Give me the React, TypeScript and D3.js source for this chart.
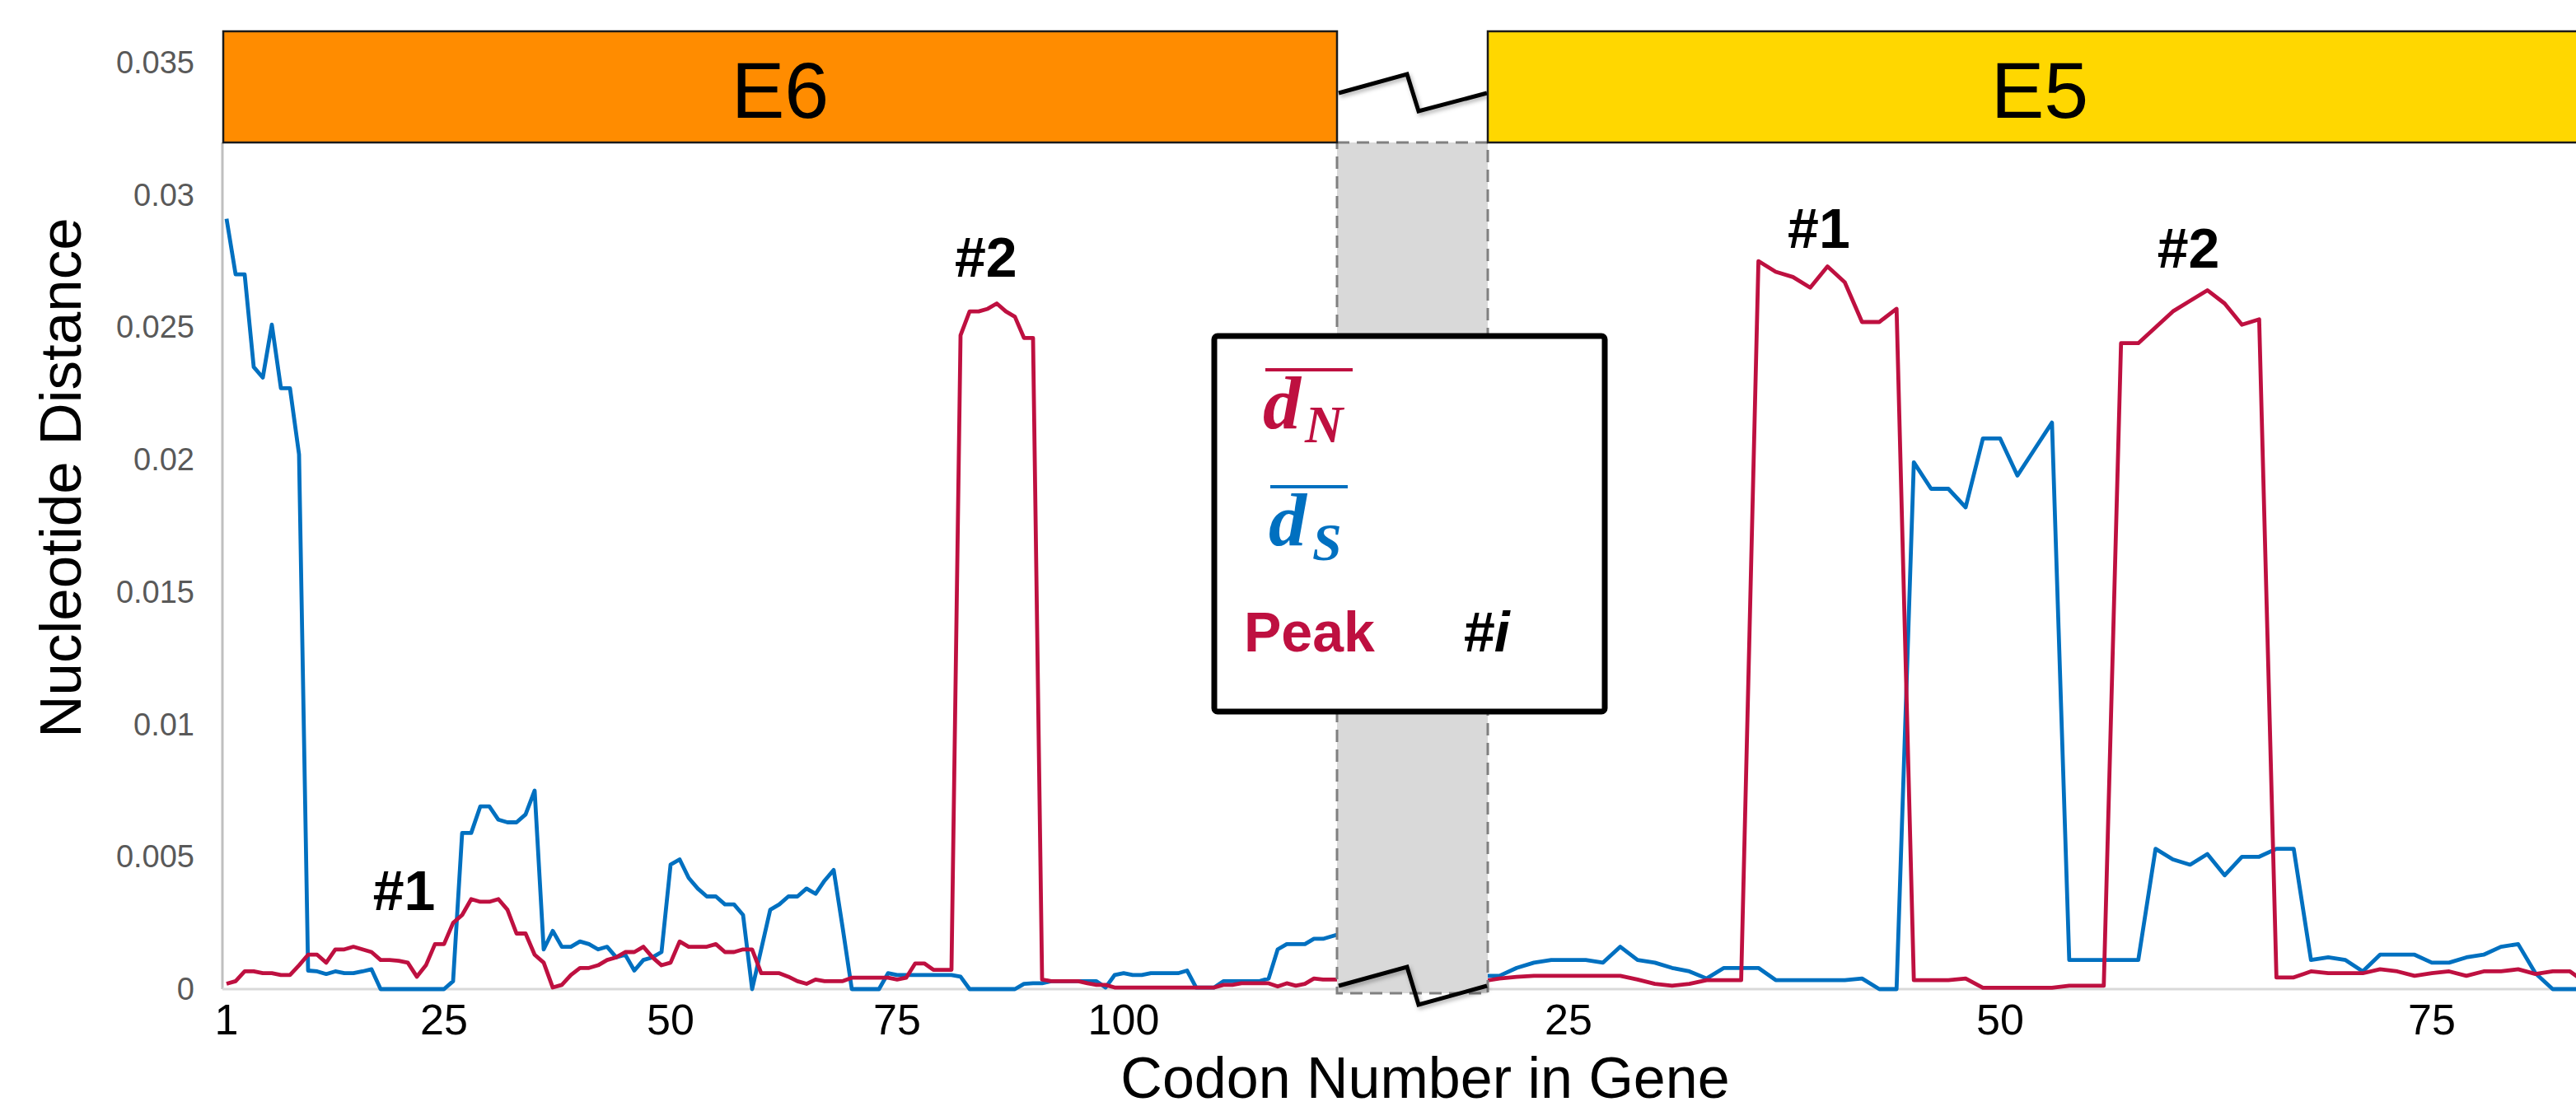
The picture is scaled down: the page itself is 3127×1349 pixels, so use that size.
import * as d3 from "d3";

// E6: codons 1..124 (the gray break box hides the rest)
const E6_FIRST_CODON = 1;
const E6_DN = [
  0.0002, 0.0003, 0.00067, 0.00067, 0.0006, 0.0006, 0.00053, 0.00053, 0.0009, 0.0013,
  0.0013, 0.001, 0.0015, 0.0015, 0.0016, 0.0015, 0.0014, 0.0011, 0.0011, 0.00107,
  0.001, 0.00047, 0.0009, 0.0017, 0.0017, 0.0025, 0.0028, 0.0034, 0.0033, 0.0033,
  0.0034, 0.003, 0.0021, 0.0021, 0.0013, 0.001, 0.00006, 0.00016, 0.00053, 0.0008,
  0.0008, 0.0009, 0.0011, 0.0012, 0.0014, 0.0014, 0.0016, 0.0012, 0.0009, 0.001,
  0.0018, 0.0016, 0.0016, 0.0016, 0.0017, 0.0014, 0.0014, 0.0015, 0.0015, 0.0006,
  0.0006, 0.0006, 0.00047, 0.0003, 0.0002, 0.00036, 0.0003, 0.0003, 0.0003, 0.00043,
  0.00043, 0.00043, 0.00043, 0.00043, 0.00036, 0.00043, 0.00097, 0.00097, 0.00073, 0.00073,
  0.00073, 0.0247, 0.0256, 0.0256, 0.0257, 0.0259, 0.0256, 0.0254, 0.0246, 0.0246,
  0.00036, 0.0003, 0.0003, 0.0003, 0.0003, 0.00022, 0.00016, 0.00016, 0.00006, 0.00006,
  0.00006, 0.00006, 0.00006, 0.00006, 0.00006, 0.00006, 0.00006, 0.00006, 0.00006, 0.00006,
  0.00016, 0.00016, 0.00022, 0.00022, 0.00022, 0.00022, 0.0001, 0.00022, 0.00013, 0.0002,
  0.0004, 0.00036, 0.00036, 0.00036,
];
const E6_DS = [
  0.0291, 0.027, 0.027, 0.0235, 0.0231, 0.0251, 0.0227, 0.0227, 0.0202, 0.0007,
  0.00067, 0.00057, 0.00067, 0.0006, 0.0006, 0.00067, 0.00075, 0, 0, 0,
  0, 0, 0, 0, 0, 0.0003, 0.0059, 0.0059, 0.0069, 0.0069,
  0.0064, 0.0063, 0.0063, 0.0066, 0.0075, 0.0015, 0.0022, 0.0016, 0.0016, 0.0018,
  0.0017, 0.0015, 0.0016, 0.0012, 0.0013, 0.0007, 0.0011, 0.0012, 0.0014, 0.0047,
  0.0049, 0.0042, 0.0038, 0.0035, 0.0035, 0.0032, 0.0032, 0.0028, 0, 0.0015,
  0.003, 0.0032, 0.0035, 0.0035, 0.0038, 0.0036, 0.0041, 0.0045, 0.0023, 0,
  0, 0, 0, 0.0006, 0.00053, 0.00053, 0.00053, 0.00053, 0.00053, 0.00053,
  0.00053, 0.00047, 0, 0, 0, 0, 0, 0, 0.0002, 0.00022,
  0.00022, 0.0003, 0.0003, 0.0003, 0.0003, 0.0003, 0.0003, 0.00006, 0.00053, 0.0006,
  0.00053, 0.00053, 0.0006, 0.0006, 0.0006, 0.0006, 0.0007, 0.00006, 0.00006, 0.00006,
  0.0003, 0.0003, 0.0003, 0.0003, 0.0003, 0.0004, 0.0015, 0.0017, 0.0017, 0.0017,
  0.0019, 0.0019, 0.002, 0.0021,
];

// E5: codons 20..84 visible to the right of the break
const E5_FIRST_CODON = 20;
const E5_DN = [
  0.0003, 0.0004, 0.00046, 0.0005, 0.0005, 0.0005, 0.0005, 0.0005, 0.0005, 0.00036,
  0.0002, 0.00013, 0.0002, 0.00034, 0.00034, 0.00034, 0.0275, 0.0271, 0.0269, 0.0265,
  0.0273, 0.0267, 0.0252, 0.0252, 0.0257, 0.00034, 0.00034, 0.00034, 0.0004, 0.00005,
  0.00005, 0.00005, 0.00005, 0.00005, 0.00013, 0.00013, 0.00013, 0.0244, 0.0244, 0.025,
  0.0256, 0.026, 0.0264, 0.0259, 0.0251, 0.0253, 0.00044, 0.00044, 0.00067, 0.0006,
  0.0006, 0.0006, 0.00075, 0.00067, 0.0005, 0.0006, 0.00067, 0.0005, 0.00067, 0.00067,
  0.00075, 0.00057, 0.00067, 0.00067, 0.0002,
];
const E5_DS = [
  0.0005, 0.0005, 0.0008, 0.001, 0.0011, 0.0011, 0.0011, 0.001, 0.0016, 0.0011,
  0.001, 0.0008, 0.00067, 0.0004, 0.0008, 0.0008, 0.0008, 0.00034, 0.00034, 0.00034,
  0.00034, 0.00034, 0.0004, 0, 0, 0.0199, 0.0189, 0.0189, 0.0182, 0.0208,
  0.0208, 0.0194, 0.0204, 0.0214, 0.0011, 0.0011, 0.0011, 0.0011, 0.0011, 0.0053,
  0.0049, 0.0047, 0.0051, 0.0043, 0.005, 0.005, 0.0053, 0.0053, 0.0011, 0.0012,
  0.0011, 0.00067, 0.0013, 0.0013, 0.0013, 0.001, 0.001, 0.0012, 0.0013, 0.0016,
  0.0017, 0.0006, 0, 0, 0,
];

const Y_TICKS = [0, 0.005, 0.01, 0.015, 0.02, 0.025, 0.03, 0.035];
const Y_TICK_LABELS = ["0", "0.005", "0.01", "0.015", "0.02", "0.025", "0.03", "0.035"];
const E6_TICKS = [1, 25, 50, 75, 100];
const E5_TICKS = [25, 50, 75];

// peak labels: gene, codon centre, value at text baseline
const PEAK_GENE = ["E6", "E6", "E5", "E5"];
const PEAK_CODON = [20.6, 84.8, 39.5, 60.9];
const PEAK_VALUE = [0.003, 0.0269, 0.028, 0.02725];
const PEAK_LABEL = ["#1", "#2", "#1", "#2"];

const W = 3127;
const H = 1349;
const RED = "#BE1040";
const BLUE = "#0070C0";
const SANS = "Liberation Sans, Arial, sans-serif";
const SERIF = "Liberation Serif, serif";

const BREAK_L = 1623;
const BREAK_R = 1806;
const BOX_TOP = 38;
const BOX_BOTTOM = 173;

const y = d3.scaleLinear().domain([0, 0.035]).range([1201, 76]);
const xE6 = d3.scaleLinear().domain([1, 100]).range([275, 1364]);
const xE5 = d3.scaleLinear().domain([25, 75]).range([1904, 2952]);

const lineE6 = d3
  .line<number>()
  .x((_, i) => xE6(i + E6_FIRST_CODON))
  .y((d) => y(d));
const lineE5 = d3
  .line<number>()
  .x((_, i) => xE5(i + E5_FIRST_CODON))
  .y((d) => y(d));

const App = () => {
  const y0 = y(0);
  return (
    <svg
      width={W}
      height={H}
      viewBox={`0 0 ${W} ${H}`}
      style={{ position: "absolute", left: 0, top: 0, display: "block", background: "#fff" }}
    >
      <defs>
        <clipPath id="clipE6">
          <rect x={270} y={0} width={BREAK_L - 270} height={H} />
        </clipPath>
        <clipPath id="clipE5">
          <rect x={BREAK_R} y={0} width={W - BREAK_R} height={H} />
        </clipPath>
        <filter id="shadow" x="-20%" y="-50%" width="140%" height="200%">
          <feDropShadow dx={2} dy={3} stdDeviation={2.5} floodColor="#000" floodOpacity={0.3} />
        </filter>
      </defs>

      {/* axes */}
      <line x1={270} x2={270} y1={BOX_BOTTOM} y2={y0} stroke="#BFBFBF" strokeWidth={3} />
      <line x1={270} x2={W} y1={y0} y2={y0} stroke="#D9D9D9" strokeWidth={3} />

      {Y_TICKS.map((t, i) => (
        <text
          key={t}
          x={236}
          y={y(t) + 13}
          textAnchor="end"
          fontFamily={SANS}
          fontSize={38}
          fill="#595959"
        >
          {Y_TICK_LABELS[i]}
        </text>
      ))}
      {E6_TICKS.map((t) => (
        <text key={"e6" + t} x={xE6(t)} y={1256} textAnchor="middle" fontFamily={SANS} fontSize={52} fill="#000">
          {t}
        </text>
      ))}
      {E5_TICKS.map((t) => (
        <text key={"e5" + t} x={xE5(t)} y={1256} textAnchor="middle" fontFamily={SANS} fontSize={52} fill="#000">
          {t}
        </text>
      ))}

      <text
        transform="translate(98, 580) rotate(-90)"
        textAnchor="middle"
        fontFamily={SANS}
        fontSize={71}
        fill="#000"
      >
        Nucleotide Distance
      </text>
      <text x={1730} y={1333} textAnchor="middle" fontFamily={SANS} fontSize={70} fill="#000">
        Codon Number in Gene
      </text>

      {/* series */}
      <g clipPath="url(#clipE6)" fill="none" strokeWidth={4.8} strokeLinejoin="round">
        <path d={lineE6(E6_DS) ?? ""} stroke={BLUE} />
        <path d={lineE6(E6_DN) ?? ""} stroke={RED} />
      </g>
      <g clipPath="url(#clipE5)" fill="none" strokeWidth={4.8} strokeLinejoin="round">
        <path d={lineE5(E5_DS) ?? ""} stroke={BLUE} />
        <path d={lineE5(E5_DN) ?? ""} stroke={RED} />
      </g>

      {/* axis break */}
      <rect
        x={BREAK_L}
        y={BOX_BOTTOM}
        width={BREAK_R - BREAK_L}
        height={1206 - BOX_BOTTOM}
        fill="#D9D9D9"
        stroke="#808080"
        strokeWidth={3}
        strokeDasharray="15 9"
      />
      <polyline
        points={`${BREAK_L + 2},113 1708,90 1722,135 ${BREAK_R - 1},113`}
        fill="none"
        stroke="#000"
        strokeWidth={5}
        filter="url(#shadow)"
      />
      <polyline
        points={`${BREAK_L + 2},1197 1708,1174 1722,1220 ${BREAK_R - 1},1197`}
        fill="none"
        stroke="#000"
        strokeWidth={5}
        filter="url(#shadow)"
      />

      {/* gene boxes */}
      <rect x={271} y={BOX_TOP} width={BREAK_L - 271} height={BOX_BOTTOM - BOX_TOP} fill="#FF8C00" stroke="#1a1a1a" strokeWidth={2.5} />
      <text x={(271 + BREAK_L) / 2} y={143} textAnchor="middle" fontFamily={SANS} fontSize={97} fill="#000">
        E6
      </text>
      <rect x={BREAK_R} y={BOX_TOP} width={3146 - BREAK_R} height={BOX_BOTTOM - BOX_TOP} fill="#FFD700" stroke="#1a1a1a" strokeWidth={2.5} />
      <text x={(BREAK_R + 3146) / 2} y={143} textAnchor="middle" fontFamily={SANS} fontSize={97} fill="#000">
        E5
      </text>

      {/* peak labels */}
      {PEAK_LABEL.map((lab, i) => (
        <text
          key={i}
          x={PEAK_GENE[i] === "E6" ? xE6(PEAK_CODON[i]) : xE5(PEAK_CODON[i])}
          y={y(PEAK_VALUE[i])}
          textAnchor="middle"
          fontFamily={SANS}
          fontWeight="bold"
          fontSize={68}
          fill="#000"
        >
          {lab}
        </text>
      ))}

      {/* legend */}
      <rect x={1474} y={408} width={474} height={456} rx={4} fill="#fff" stroke="#000" strokeWidth={7} />
      <line x1={1536} x2={1642} y1={449} y2={449} stroke={RED} strokeWidth={4} />
      <text x={1533} y={520} fontFamily={SERIF} fontStyle="italic" fontWeight="bold" fontSize={92} fill={RED}>
        d
        <tspan dx={5} dy={17} fontSize={64}>
          N
        </tspan>
      </text>
      <line x1={1542} x2={1636} y1={591} y2={591} stroke={BLUE} strokeWidth={4} />
      <text x={1540} y={662} fontFamily={SERIF} fontStyle="italic" fontWeight="bold" fontSize={92} fill={BLUE}>
        d
        <tspan dx={7} dy={18} fontSize={64}>
          S
        </tspan>
      </text>
      <line x1={1746} x2={1871} y1={487} y2={487} stroke={RED} strokeWidth={4.7} filter="url(#shadow)" />
      <line x1={1746} x2={1871} y1={629} y2={629} stroke={BLUE} strokeWidth={4.7} filter="url(#shadow)" />
      <text x={1510} y={791} fontFamily={SANS} fontWeight="bold" fontSize={68} fill={RED}>
        Peak
      </text>
      <text x={1776} y={791} fontFamily={SANS} fontWeight="bold" fontStyle="italic" fontSize={68} fill="#000">
        #i
      </text>
    </svg>
  );
};

export default App;
